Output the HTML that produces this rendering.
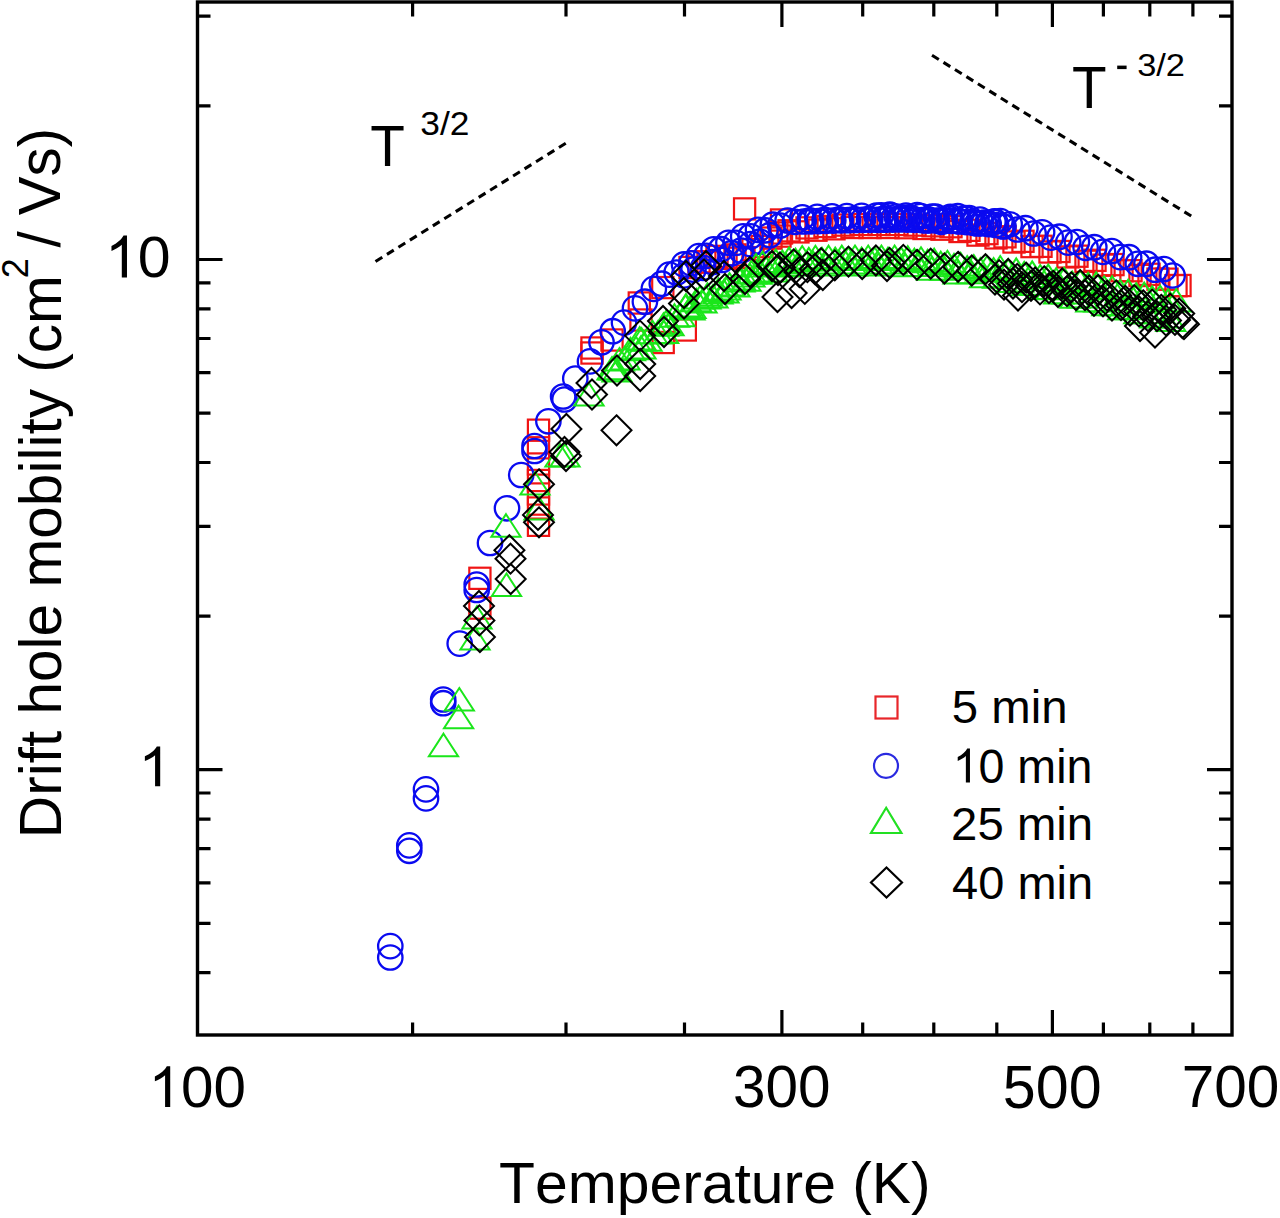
<!DOCTYPE html><html><head><meta charset="utf-8"><style>html,body{margin:0;padding:0;background:#fff;width:1280px;height:1218px;overflow:hidden}svg{display:block}text{font-family:"Liberation Sans",sans-serif;font-kerning:none;white-space:pre}</style></head><body>
<svg width="1280" height="1218" viewBox="0 0 1280 1218">
<rect width="1280" height="1218" fill="#fff"/>
<g fill="none" stroke="#f01414" stroke-width="2.2"><rect x="469.3" y="567.7" width="21.2" height="21.2"/><rect x="469.3" y="597.5" width="21.2" height="21.2"/><rect x="527.9" y="419.6" width="21.2" height="21.2"/><rect x="527.9" y="437.2" width="21.2" height="21.2"/><rect x="527.9" y="453.4" width="21.2" height="21.2"/><rect x="527.9" y="469.9" width="21.2" height="21.2"/><rect x="527.9" y="483.4" width="21.2" height="21.2"/><rect x="527.9" y="497.4" width="21.2" height="21.2"/><rect x="527.9" y="514.7" width="21.2" height="21.2"/><rect x="581.4" y="337.4" width="21.2" height="21.2"/><rect x="581.4" y="342.4" width="21.2" height="21.2"/><rect x="601.4" y="329.4" width="21.2" height="21.2"/><rect x="628.7" y="292.4" width="21.2" height="21.2"/><rect x="630.4" y="309.4" width="21.2" height="21.2"/><rect x="652.2" y="277.0" width="21.2" height="21.2"/><rect x="674.7" y="319.4" width="21.2" height="21.2"/><rect x="652.6" y="331.9" width="21.2" height="21.2"/><rect x="734.0" y="198.3" width="21.2" height="21.2"/><rect x="770.9" y="209.4" width="21.2" height="21.2"/><rect x="770.9" y="222.4" width="21.2" height="21.2"/><rect x="1169.4" y="274.9" width="21.2" height="21.2"/><rect x="679.4" y="256.9" width="21.2" height="21.2"/><rect x="688.4" y="251.2" width="21.2" height="21.2"/><rect x="697.4" y="251.5" width="21.2" height="21.2"/><rect x="706.4" y="245.8" width="21.2" height="21.2"/><rect x="715.4" y="247.7" width="21.2" height="21.2"/><rect x="724.4" y="244.3" width="21.2" height="21.2"/><rect x="733.4" y="247.0" width="21.2" height="21.2"/><rect x="742.4" y="239.1" width="21.2" height="21.2"/><rect x="751.4" y="236.0" width="21.2" height="21.2"/><rect x="760.4" y="227.5" width="21.2" height="21.2"/><rect x="769.4" y="225.5" width="21.2" height="21.2"/><rect x="778.4" y="220.2" width="21.2" height="21.2"/><rect x="787.4" y="221.3" width="21.2" height="21.2"/><rect x="796.4" y="217.3" width="21.2" height="21.2"/><rect x="805.4" y="219.6" width="21.2" height="21.2"/><rect x="814.4" y="215.9" width="21.2" height="21.2"/><rect x="823.4" y="218.2" width="21.2" height="21.2"/><rect x="832.4" y="214.5" width="21.2" height="21.2"/><rect x="841.4" y="216.9" width="21.2" height="21.2"/><rect x="850.4" y="213.9" width="21.2" height="21.2"/><rect x="859.4" y="216.9" width="21.2" height="21.2"/><rect x="868.4" y="213.9" width="21.2" height="21.2"/><rect x="877.4" y="216.9" width="21.2" height="21.2"/><rect x="886.4" y="213.9" width="21.2" height="21.2"/><rect x="895.4" y="217.1" width="21.2" height="21.2"/><rect x="904.4" y="214.5" width="21.2" height="21.2"/><rect x="913.4" y="217.9" width="21.2" height="21.2"/><rect x="922.4" y="215.2" width="21.2" height="21.2"/><rect x="931.4" y="218.6" width="21.2" height="21.2"/><rect x="940.4" y="216.1" width="21.2" height="21.2"/><rect x="949.4" y="220.9" width="21.2" height="21.2"/><rect x="958.4" y="219.7" width="21.2" height="21.2"/><rect x="967.4" y="224.5" width="21.2" height="21.2"/><rect x="976.4" y="223.0" width="21.2" height="21.2"/><rect x="985.4" y="227.3" width="21.2" height="21.2"/><rect x="994.4" y="226.2" width="21.2" height="21.2"/><rect x="1003.4" y="231.4" width="21.2" height="21.2"/><rect x="1012.4" y="230.7" width="21.2" height="21.2"/><rect x="1021.4" y="236.0" width="21.2" height="21.2"/><rect x="1030.4" y="235.7" width="21.2" height="21.2"/><rect x="1039.4" y="241.4" width="21.2" height="21.2"/><rect x="1048.4" y="240.9" width="21.2" height="21.2"/><rect x="1057.4" y="246.3" width="21.2" height="21.2"/><rect x="1066.4" y="245.6" width="21.2" height="21.2"/><rect x="1075.4" y="250.7" width="21.2" height="21.2"/><rect x="1084.4" y="249.7" width="21.2" height="21.2"/><rect x="1093.4" y="254.6" width="21.2" height="21.2"/><rect x="1102.4" y="254.0" width="21.2" height="21.2"/><rect x="1111.4" y="260.1" width="21.2" height="21.2"/><rect x="1120.4" y="260.1" width="21.2" height="21.2"/><rect x="1129.4" y="264.9" width="21.2" height="21.2"/><rect x="1138.4" y="263.7" width="21.2" height="21.2"/><rect x="1147.4" y="268.5" width="21.2" height="21.2"/><rect x="1156.4" y="268.6" width="21.2" height="21.2"/><rect x="1165.4" y="275.1" width="21.2" height="21.2"/></g>
<g fill="none" stroke="#0a0af0" stroke-width="2.3"><circle cx="390.3" cy="946.1" r="12.2"/><circle cx="390.3" cy="957.5" r="12.2"/><circle cx="409.3" cy="845.4" r="12.2"/><circle cx="409.3" cy="850.8" r="12.2"/><circle cx="426.0" cy="789.4" r="12.2"/><circle cx="426.0" cy="798.4" r="12.2"/><circle cx="443.2" cy="699.5" r="12.2"/><circle cx="443.2" cy="703.2" r="12.2"/><circle cx="459.7" cy="643.6" r="12.2"/><circle cx="476.7" cy="584.5" r="12.2"/><circle cx="476.7" cy="590.0" r="12.2"/><circle cx="490.0" cy="543.0" r="12.2"/><circle cx="507.0" cy="508.3" r="12.2"/><circle cx="521.2" cy="475.0" r="12.2"/><circle cx="534.5" cy="446.0" r="12.2"/><circle cx="534.5" cy="451.0" r="12.2"/><circle cx="548.4" cy="421.3" r="12.2"/><circle cx="563.1" cy="396.5" r="12.2"/><circle cx="564.5" cy="399.5" r="12.2"/><circle cx="575.3" cy="378.5" r="12.2"/><circle cx="590.0" cy="361.4" r="12.2"/><circle cx="601.5" cy="342.3" r="12.2"/><circle cx="612.7" cy="331.2" r="12.2"/><circle cx="684.0" cy="275.4" r="12.2"/><circle cx="693.5" cy="269.6" r="12.2"/><circle cx="703.0" cy="267.8" r="12.2"/><circle cx="712.5" cy="262.0" r="12.2"/><circle cx="722.0" cy="260.0" r="12.2"/><circle cx="731.5" cy="253.2" r="12.2"/><circle cx="741.0" cy="250.5" r="12.2"/><circle cx="750.5" cy="244.1" r="12.2"/><circle cx="760.0" cy="241.7" r="12.2"/><circle cx="769.5" cy="235.2" r="12.2"/><circle cx="624.0" cy="322.6" r="12.2"/><circle cx="635.0" cy="308.4" r="12.2"/><circle cx="644.9" cy="301.7" r="12.2"/><circle cx="653.8" cy="288.9" r="12.2"/><circle cx="661.8" cy="283.7" r="12.2"/><circle cx="669.2" cy="274.6" r="12.2"/><circle cx="676.6" cy="272.5" r="12.2"/><circle cx="684.0" cy="264.4" r="12.2"/><circle cx="691.4" cy="263.4" r="12.2"/><circle cx="698.8" cy="256.1" r="12.2"/><circle cx="706.2" cy="255.8" r="12.2"/><circle cx="713.6" cy="249.3" r="12.2"/><circle cx="721.0" cy="249.2" r="12.2"/><circle cx="728.4" cy="242.8" r="12.2"/><circle cx="735.8" cy="242.9" r="12.2"/><circle cx="743.2" cy="236.4" r="12.2"/><circle cx="750.6" cy="236.3" r="12.2"/><circle cx="758.0" cy="229.8" r="12.2"/><circle cx="765.4" cy="230.3" r="12.2"/><circle cx="772.8" cy="224.7" r="12.2"/><circle cx="780.2" cy="225.5" r="12.2"/><circle cx="787.6" cy="220.5" r="12.2"/><circle cx="795.0" cy="221.8" r="12.2"/><circle cx="802.4" cy="217.3" r="12.2"/><circle cx="809.8" cy="220.3" r="12.2"/><circle cx="817.2" cy="216.9" r="12.2"/><circle cx="824.6" cy="219.9" r="12.2"/><circle cx="832.0" cy="216.4" r="12.2"/><circle cx="839.4" cy="219.4" r="12.2"/><circle cx="846.8" cy="216.0" r="12.2"/><circle cx="854.2" cy="219.1" r="12.2"/><circle cx="861.6" cy="215.8" r="12.2"/><circle cx="869.0" cy="218.9" r="12.2"/><circle cx="876.4" cy="215.6" r="12.2"/><circle cx="883.8" cy="218.8" r="12.2"/><circle cx="891.2" cy="215.5" r="12.2"/><circle cx="898.6" cy="218.6" r="12.2"/><circle cx="906.0" cy="215.6" r="12.2"/><circle cx="913.4" cy="219.0" r="12.2"/><circle cx="920.8" cy="216.0" r="12.2"/><circle cx="928.2" cy="219.4" r="12.2"/><circle cx="935.6" cy="216.5" r="12.2"/><circle cx="943.0" cy="219.9" r="12.2"/><circle cx="950.4" cy="216.9" r="12.2"/><circle cx="957.8" cy="220.8" r="12.2"/><circle cx="965.2" cy="218.2" r="12.2"/><circle cx="972.6" cy="222.1" r="12.2"/><circle cx="980.0" cy="219.5" r="12.2"/><circle cx="987.4" cy="223.4" r="12.2"/><circle cx="994.8" cy="221.4" r="12.2"/><circle cx="1002.2" cy="226.0" r="12.2"/><circle cx="1009.7" cy="224.3" r="12.2"/><circle cx="1017.4" cy="229.5" r="12.2"/><circle cx="1025.4" cy="228.2" r="12.2"/><circle cx="1033.6" cy="233.5" r="12.2"/><circle cx="1042.1" cy="232.3" r="12.2"/><circle cx="1050.8" cy="237.6" r="12.2"/><circle cx="1059.5" cy="236.7" r="12.2"/><circle cx="1068.2" cy="242.6" r="12.2"/><circle cx="1076.9" cy="242.0" r="12.2"/><circle cx="1085.6" cy="247.8" r="12.2"/><circle cx="1094.3" cy="247.2" r="12.2"/><circle cx="1103.0" cy="251.9" r="12.2"/><circle cx="1111.7" cy="251.0" r="12.2"/><circle cx="1120.4" cy="257.1" r="12.2"/><circle cx="1129.1" cy="257.2" r="12.2"/><circle cx="1137.8" cy="263.8" r="12.2"/><circle cx="1146.5" cy="263.7" r="12.2"/><circle cx="1155.2" cy="269.7" r="12.2"/><circle cx="1163.9" cy="269.0" r="12.2"/><circle cx="1172.6" cy="275.5" r="12.2"/><circle cx="803.7" cy="221.5" r="12.2"/><circle cx="811.1" cy="221.3" r="12.2"/><circle cx="818.5" cy="221.1" r="12.2"/><circle cx="825.9" cy="220.8" r="12.2"/><circle cx="833.3" cy="220.6" r="12.2"/><circle cx="840.7" cy="220.4" r="12.2"/><circle cx="848.1" cy="220.2" r="12.2"/><circle cx="855.5" cy="220.0" r="12.2"/><circle cx="862.9" cy="219.9" r="12.2"/><circle cx="870.3" cy="219.8" r="12.2"/><circle cx="877.7" cy="219.8" r="12.2"/><circle cx="885.1" cy="219.7" r="12.2"/><circle cx="892.5" cy="219.6" r="12.2"/><circle cx="899.9" cy="219.5" r="12.2"/><circle cx="907.3" cy="219.6" r="12.2"/><circle cx="914.7" cy="219.8" r="12.2"/><circle cx="922.1" cy="220.1" r="12.2"/><circle cx="929.5" cy="220.3" r="12.2"/><circle cx="936.9" cy="220.5" r="12.2"/><circle cx="944.3" cy="220.7" r="12.2"/><circle cx="951.7" cy="220.9" r="12.2"/><circle cx="959.1" cy="221.5" r="12.2"/><circle cx="966.5" cy="222.1" r="12.2"/><circle cx="973.9" cy="222.8" r="12.2"/><circle cx="981.3" cy="223.4" r="12.2"/><circle cx="988.7" cy="224.1" r="12.2"/><circle cx="996.1" cy="225.0" r="12.2"/><circle cx="1003.5" cy="226.5" r="12.2"/><circle cx="881.1" cy="215.3" r="12.2"/><circle cx="889.8" cy="214.6" r="12.2"/><circle cx="896.7" cy="216.6" r="12.2"/><circle cx="902.2" cy="217.6" r="12.2"/><circle cx="909.5" cy="217.3" r="12.2"/><circle cx="917.1" cy="215.1" r="12.2"/><circle cx="925.9" cy="220.5" r="12.2"/><circle cx="932.1" cy="216.5" r="12.2"/><circle cx="941.5" cy="221.8" r="12.2"/><circle cx="948.7" cy="218.2" r="12.2"/><circle cx="957.7" cy="216.2" r="12.2"/><circle cx="964.6" cy="218.5" r="12.2"/><circle cx="969.2" cy="218.0" r="12.2"/><circle cx="977.2" cy="223.5" r="12.2"/><circle cx="984.1" cy="222.5" r="12.2"/><circle cx="993.4" cy="221.8" r="12.2"/><circle cx="1000.4" cy="221.1" r="12.2"/></g>
<g fill="none" stroke="#1ae61a" stroke-width="2.0"><path d="M459.3 688.0L473.9 710.5H444.7Z"/><path d="M458.6 705.7L473.2 728.2H444.0Z"/><path d="M443.5 733.7L458.1 756.2H428.9Z"/><path d="M475.0 627.0L489.6 649.5H460.4Z"/><path d="M477.0 606.0L491.6 628.5H462.4Z"/><path d="M506.5 573.5L521.1 596.0H491.9Z"/><path d="M506.0 514.2L520.6 536.7H491.4Z"/><path d="M535.0 472.0L549.6 494.5H520.4Z"/><path d="M539.0 497.0L553.6 519.5H524.4Z"/><path d="M560.0 444.0L574.6 466.5H545.4Z"/><path d="M565.0 444.0L579.6 466.5H550.4Z"/><path d="M589.0 383.0L603.6 405.5H574.4Z"/><path d="M612.0 357.0L626.6 379.5H597.4Z"/><path d="M617.0 359.0L631.6 381.5H602.4Z"/><path d="M639.7 327.0L654.3 349.5H625.1Z"/><path d="M641.0 336.0L655.6 358.5H626.4Z"/><path d="M663.6 320.4L678.2 342.9H649.0Z"/><path d="M666.0 311.0L680.6 333.5H651.4Z"/><path d="M686.0 294.0L700.6 316.5H671.4Z"/><path d="M690.0 297.0L704.6 319.5H675.4Z"/><path d="M700.0 286.0L714.6 308.5H685.4Z"/><path d="M706.0 286.0L720.6 308.5H691.4Z"/><path d="M726.0 277.0L740.6 299.5H711.4Z"/><path d="M718.0 281.0L732.6 303.5H703.4Z"/><path d="M740.0 269.0L754.6 291.5H725.4Z"/><path d="M750.0 264.0L764.6 286.5H735.4Z"/><path d="M614.0 357.1L628.6 379.6H599.4Z"/><path d="M619.5 348.0L634.1 370.5H604.9Z"/><path d="M625.0 346.9L639.6 369.4H610.4Z"/><path d="M630.5 337.8L645.1 360.3H615.9Z"/><path d="M636.0 336.7L650.6 359.2H621.4Z"/><path d="M641.5 328.0L656.1 350.5H626.9Z"/><path d="M647.0 328.3L661.6 350.8H632.4Z"/><path d="M652.5 320.7L667.1 343.2H637.9Z"/><path d="M658.0 321.0L672.6 343.5H643.4Z"/><path d="M663.5 313.3L678.1 335.8H648.9Z"/><path d="M669.0 312.8L683.6 335.3H654.4Z"/><path d="M674.5 304.2L689.1 326.8H659.9Z"/><path d="M680.0 303.7L694.6 326.2H665.4Z"/><path d="M685.5 295.1L700.1 317.6H670.9Z"/><path d="M691.0 295.5L705.6 318.0H676.4Z"/><path d="M696.5 288.8L711.1 311.2H681.9Z"/><path d="M702.0 290.0L716.6 312.5H687.4Z"/><path d="M707.5 283.3L722.1 305.8H692.9Z"/><path d="M713.0 284.9L727.6 307.4H698.4Z"/><path d="M718.5 278.4L733.1 300.9H703.9Z"/><path d="M724.0 279.9L738.6 302.4H709.4Z"/><path d="M729.5 273.1L744.1 295.6H714.9Z"/><path d="M735.0 274.1L749.6 296.6H720.4Z"/><path d="M740.5 267.1L755.1 289.6H725.9Z"/><path d="M746.0 268.2L760.6 290.7H731.4Z"/><path d="M751.5 261.0L766.1 283.5H736.9Z"/><path d="M757.0 261.3L771.6 283.8H742.4Z"/><path d="M756.0 254.0L770.6 276.5H741.4Z"/><path d="M762.6 251.6L777.2 274.1H748.0Z"/><path d="M769.2 252.6L783.8 275.1H754.6Z"/><path d="M775.8 249.6L790.4 272.1H761.2Z"/><path d="M782.4 250.6L797.0 273.1H767.8Z"/><path d="M789.0 247.6L803.6 270.1H774.4Z"/><path d="M795.6 248.7L810.2 271.2H781.0Z"/><path d="M802.2 246.0L816.8 268.5H787.6Z"/><path d="M808.8 247.9L823.4 270.4H794.2Z"/><path d="M815.4 245.8L830.0 268.3H800.8Z"/><path d="M822.0 247.8L836.6 270.3H807.4Z"/><path d="M828.6 245.7L843.2 268.2H814.0Z"/><path d="M835.2 247.6L849.8 270.1H820.6Z"/><path d="M841.8 245.6L856.4 268.1H827.2Z"/><path d="M848.4 247.5L863.0 270.0H833.8Z"/><path d="M855.0 245.5L869.6 268.0H840.4Z"/><path d="M861.6 247.5L876.2 270.0H847.0Z"/><path d="M868.2 245.5L882.8 268.0H853.6Z"/><path d="M874.8 247.5L889.4 270.0H860.2Z"/><path d="M881.4 245.5L896.0 268.0H866.8Z"/><path d="M888.0 247.5L902.6 270.0H873.4Z"/><path d="M894.6 245.5L909.2 268.0H880.0Z"/><path d="M901.2 247.6L915.8 270.1H886.6Z"/><path d="M907.8 246.2L922.4 268.7H893.2Z"/><path d="M914.4 248.7L929.0 271.2H899.8Z"/><path d="M921.0 247.3L935.6 269.8H906.4Z"/><path d="M927.6 249.8L942.2 272.3H913.0Z"/><path d="M934.2 248.7L948.8 271.2H919.6Z"/><path d="M940.8 251.7L955.4 274.2H926.2Z"/><path d="M947.4 250.8L962.0 273.3H932.8Z"/><path d="M954.0 253.8L968.6 276.3H939.4Z"/><path d="M960.6 252.9L975.2 275.4H946.0Z"/><path d="M967.2 256.0L981.8 278.5H952.6Z"/><path d="M973.8 255.0L988.4 277.5H959.2Z"/><path d="M980.4 258.0L995.0 280.5H965.8Z"/><path d="M987.0 256.0L1001.6 278.5H972.4Z"/><path d="M993.6 258.0L1008.2 280.5H979.0Z"/><path d="M1000.2 256.0L1014.8 278.5H985.6Z"/><path d="M1008.2 259.2L1022.8 281.7H993.6Z"/><path d="M1016.2 258.4L1030.8 280.9H1001.6Z"/><path d="M1024.2 261.8L1038.8 284.3H1009.6Z"/><path d="M1032.2 261.4L1046.8 283.9H1017.6Z"/><path d="M1040.2 265.0L1054.8 287.5H1025.6Z"/><path d="M1048.2 264.6L1062.8 287.1H1033.6Z"/><path d="M1056.2 268.2L1070.8 290.7H1041.6Z"/><path d="M1064.2 267.9L1078.8 290.4H1049.6Z"/><path d="M1072.2 271.6L1086.8 294.1H1057.6Z"/><path d="M1080.2 270.4L1094.8 292.9H1065.6Z"/><path d="M1088.2 272.9L1102.8 295.4H1073.6Z"/><path d="M1096.2 272.4L1110.8 294.9H1081.6Z"/><path d="M1104.2 276.3L1118.8 298.8H1089.6Z"/><path d="M1112.2 276.2L1126.8 298.7H1097.6Z"/><path d="M1120.2 280.0L1134.8 302.5H1105.6Z"/><path d="M1128.2 279.6L1142.8 302.1H1113.6Z"/><path d="M1136.2 283.1L1150.8 305.6H1121.6Z"/><path d="M1144.2 282.6L1158.8 305.1H1129.6Z"/><path d="M1152.2 286.2L1166.8 308.7H1137.6Z"/><path d="M1160.2 285.7L1174.8 308.2H1145.6Z"/><path d="M1168.2 289.3L1182.8 311.8H1153.6Z"/><path d="M1176.2 289.0L1190.8 311.5H1161.6Z"/><path d="M760.0 260.0L774.6 282.5H745.4Z"/><path d="M773.2 259.0L787.8 281.5H758.6Z"/><path d="M786.4 254.1L801.0 276.6H771.8Z"/><path d="M799.6 253.1L814.2 275.6H785.0Z"/><path d="M812.8 251.0L827.4 273.5H798.2Z"/><path d="M826.0 253.0L840.6 275.5H811.4Z"/><path d="M839.2 251.0L853.8 273.5H824.6Z"/><path d="M852.4 253.0L867.0 275.5H837.8Z"/><path d="M865.6 251.0L880.2 273.5H851.0Z"/><path d="M878.8 253.0L893.4 275.5H864.2Z"/><path d="M892.0 251.0L906.6 273.5H877.4Z"/><path d="M905.2 253.7L919.8 276.2H890.6Z"/><path d="M918.4 253.5L933.0 276.0H903.8Z"/><path d="M931.6 257.3L946.2 279.8H917.0Z"/><path d="M944.8 257.2L959.4 279.7H930.2Z"/><path d="M958.0 261.0L972.6 283.5H943.4Z"/><path d="M971.2 260.8L985.8 283.3H956.6Z"/><path d="M984.4 264.8L999.0 287.3H969.8Z"/><path d="M997.6 265.2L1012.2 287.7H983.0Z"/><path d="M1010.8 269.5L1025.4 292.0H996.2Z"/><path d="M1018.8 269.0L1033.4 291.5H1004.2Z"/><path d="M1026.8 272.4L1041.4 294.9H1012.2Z"/><path d="M1034.8 272.3L1049.4 294.8H1020.2Z"/><path d="M1042.8 276.5L1057.4 299.0H1028.2Z"/><path d="M1050.8 276.7L1065.4 299.2H1036.2Z"/><path d="M1058.8 280.9L1073.4 303.4H1044.2Z"/><path d="M1066.8 281.0L1081.4 303.5H1052.2Z"/><path d="M1074.8 285.2L1089.4 307.7H1060.2Z"/><path d="M1082.8 285.1L1097.4 307.6H1068.2Z"/><path d="M1090.8 289.0L1105.4 311.5H1076.2Z"/><path d="M1098.8 288.9L1113.4 311.4H1084.2Z"/><path d="M1106.8 292.8L1121.4 315.3H1092.2Z"/><path d="M1114.8 292.8L1129.4 315.3H1100.2Z"/><path d="M1122.8 296.7L1137.4 319.2H1108.2Z"/><path d="M1130.8 296.8L1145.4 319.3H1116.2Z"/><path d="M1138.8 300.8L1153.4 323.3H1124.2Z"/><path d="M1146.8 300.8L1161.4 323.3H1132.2Z"/><path d="M1154.8 304.9L1169.4 327.4H1140.2Z"/><path d="M1162.8 304.9L1177.4 327.4H1148.2Z"/><path d="M1170.8 308.5L1185.4 331.0H1156.2Z"/></g>
<g fill="none" stroke="#000" stroke-width="2.0"><path d="M479.0 591.0L494.0 606.0L479.0 621.0L464.0 606.0Z"/><path d="M479.4 605.4L494.4 620.4L479.4 635.4L464.4 620.4Z"/><path d="M479.9 622.0L494.9 637.0L479.9 652.0L464.9 637.0Z"/><path d="M510.7 564.0L525.7 579.0L510.7 594.0L495.7 579.0Z"/><path d="M509.4 535.2L524.4 550.2L509.4 565.2L494.4 550.2Z"/><path d="M510.5 543.7L525.5 558.7L510.5 573.7L495.5 558.7Z"/><path d="M539.0 469.3L554.0 484.3L539.0 499.3L524.0 484.3Z"/><path d="M538.0 499.9L553.0 514.9L538.0 529.9L523.0 514.9Z"/><path d="M539.0 507.3L554.0 522.3L539.0 537.3L524.0 522.3Z"/><path d="M564.5 437.0L579.5 452.0L564.5 467.0L549.5 452.0Z"/><path d="M566.0 441.0L581.0 456.0L566.0 471.0L551.0 456.0Z"/><path d="M566.4 414.0L581.4 429.0L566.4 444.0L551.4 429.0Z"/><path d="M616.5 415.3L631.5 430.3L616.5 445.3L601.5 430.3Z"/><path d="M591.5 368.0L606.5 383.0L591.5 398.0L576.5 383.0Z"/><path d="M592.0 379.5L607.0 394.5L592.0 409.5L577.0 394.5Z"/><path d="M617.0 355.5L632.0 370.5L617.0 385.5L602.0 370.5Z"/><path d="M640.2 349.0L655.2 364.0L640.2 379.0L625.2 364.0Z"/><path d="M640.2 361.0L655.2 376.0L640.2 391.0L625.2 376.0Z"/><path d="M640.0 320.6L655.0 335.6L640.0 350.6L625.0 335.6Z"/><path d="M663.0 306.0L678.0 321.0L663.0 336.0L648.0 321.0Z"/><path d="M664.0 317.0L679.0 332.0L664.0 347.0L649.0 332.0Z"/><path d="M684.0 278.0L699.0 293.0L684.0 308.0L669.0 293.0Z"/><path d="M684.0 288.5L699.0 303.5L684.0 318.5L669.0 303.5Z"/><path d="M686.0 261.0L701.0 276.0L686.0 291.0L671.0 276.0Z"/><path d="M704.0 259.5L719.0 274.5L704.0 289.5L689.0 274.5Z"/><path d="M706.0 251.0L721.0 266.0L706.0 281.0L691.0 266.0Z"/><path d="M724.0 261.0L739.0 276.0L724.0 291.0L709.0 276.0Z"/><path d="M725.0 274.0L740.0 289.0L725.0 304.0L710.0 289.0Z"/><path d="M745.0 264.0L760.0 279.0L745.0 294.0L730.0 279.0Z"/><path d="M750.0 257.0L765.0 272.0L750.0 287.0L735.0 272.0Z"/><path d="M777.5 282.0L792.5 297.0L777.5 312.0L762.5 297.0Z"/><path d="M791.6 278.0L806.6 293.0L791.6 308.0L776.6 293.0Z"/><path d="M804.8 273.9L819.8 288.9L804.8 303.9L789.8 288.9Z"/><path d="M822.8 260.0L837.8 275.0L822.8 290.0L807.8 275.0Z"/><path d="M772.0 251.0L787.0 266.0L772.0 281.0L757.0 266.0Z"/><path d="M778.0 255.0L793.0 270.0L778.0 285.0L763.0 270.0Z"/><path d="M799.4 257.0L814.4 272.0L799.4 287.0L784.4 272.0Z"/><path d="M815.0 254.0L830.0 269.0L815.0 284.0L800.0 269.0Z"/><path d="M1018.0 280.5L1033.0 295.5L1018.0 310.5L1003.0 295.5Z"/><path d="M1155.0 317.5L1170.0 332.5L1155.0 347.5L1140.0 332.5Z"/><path d="M1140.0 311.0L1155.0 326.0L1140.0 341.0L1125.0 326.0Z"/><path d="M1182.5 308.0L1197.5 323.0L1182.5 338.0L1167.5 323.0Z"/><path d="M887.0 251.0L902.0 266.0L887.0 281.0L872.0 266.0Z"/><path d="M780.0 252.5L795.0 267.5L780.0 282.5L765.0 267.5Z"/><path d="M793.7 249.5L808.7 264.5L793.7 279.5L778.7 264.5Z"/><path d="M807.4 252.1L822.4 267.1L807.4 282.1L792.4 267.1Z"/><path d="M821.1 248.2L836.1 263.2L821.1 278.2L806.1 263.2Z"/><path d="M834.8 250.4L849.8 265.4L834.8 280.4L819.8 265.4Z"/><path d="M848.5 246.6L863.5 261.6L848.5 276.6L833.5 261.6Z"/><path d="M862.2 249.0L877.2 264.0L862.2 279.0L847.2 264.0Z"/><path d="M875.9 245.5L890.9 260.5L875.9 275.5L860.9 260.5Z"/><path d="M889.6 247.9L904.6 262.9L889.6 277.9L874.6 262.9Z"/><path d="M903.3 244.9L918.3 259.9L903.3 274.9L888.3 259.9Z"/><path d="M917.0 249.8L932.0 264.8L917.0 279.8L902.0 264.8Z"/><path d="M930.7 248.7L945.7 263.7L930.7 278.7L915.7 263.7Z"/><path d="M944.4 253.5L959.4 268.5L944.4 283.5L929.4 268.5Z"/><path d="M958.1 251.8L973.1 266.8L958.1 281.8L943.1 266.8Z"/><path d="M971.8 255.5L986.8 270.5L971.8 285.5L956.8 270.5Z"/><path d="M985.5 254.2L1000.5 269.2L985.5 284.2L970.5 269.2Z"/><path d="M999.2 260.1L1014.2 275.1L999.2 290.1L984.2 275.1Z"/><path d="M1008.2 259.0L1023.2 274.0L1008.2 289.0L993.2 274.0Z"/><path d="M1017.2 263.9L1032.2 278.9L1017.2 293.9L1002.2 278.9Z"/><path d="M1026.2 262.7L1041.2 277.7L1026.2 292.7L1011.2 277.7Z"/><path d="M1035.2 267.5L1050.2 282.5L1035.2 297.5L1020.2 282.5Z"/><path d="M1044.2 266.3L1059.2 281.3L1044.2 296.3L1029.2 281.3Z"/><path d="M1053.2 270.8L1068.2 285.8L1053.2 300.8L1038.2 285.8Z"/><path d="M1062.2 268.5L1077.2 283.5L1062.2 298.5L1047.2 283.5Z"/><path d="M1071.2 272.3L1086.2 287.3L1071.2 302.3L1056.2 287.3Z"/><path d="M1080.2 270.1L1095.2 285.1L1080.2 300.1L1065.2 285.1Z"/><path d="M1089.2 275.5L1104.2 290.5L1089.2 305.5L1074.2 290.5Z"/><path d="M1098.2 275.0L1113.2 290.0L1098.2 305.0L1083.2 290.0Z"/><path d="M1107.2 280.7L1122.2 295.7L1107.2 310.7L1092.2 295.7Z"/><path d="M1116.2 280.4L1131.2 295.4L1116.2 310.4L1101.2 295.4Z"/><path d="M1125.2 285.8L1140.2 300.8L1125.2 315.8L1110.2 300.8Z"/><path d="M1134.2 285.1L1149.2 300.1L1134.2 315.1L1119.2 300.1Z"/><path d="M1143.2 290.3L1158.2 305.3L1143.2 320.3L1128.2 305.3Z"/><path d="M1152.2 289.6L1167.2 304.6L1152.2 319.6L1137.2 304.6Z"/><path d="M1161.2 294.8L1176.2 309.8L1161.2 324.8L1146.2 309.8Z"/><path d="M1170.2 293.6L1185.2 308.6L1170.2 323.6L1155.2 308.6Z"/><path d="M1179.2 298.5L1194.2 313.5L1179.2 328.5L1164.2 313.5Z"/><path d="M995.0 264.6L1010.0 279.6L995.0 294.6L980.0 279.6Z"/><path d="M1004.0 269.7L1019.0 284.7L1004.0 299.7L989.0 284.7Z"/><path d="M1013.0 268.5L1028.0 283.5L1013.0 298.5L998.0 283.5Z"/><path d="M1022.0 272.1L1037.0 287.1L1022.0 302.1L1007.0 287.1Z"/><path d="M1031.0 270.8L1046.0 285.8L1031.0 300.8L1016.0 285.8Z"/><path d="M1040.0 274.4L1055.0 289.4L1040.0 304.4L1025.0 289.4Z"/><path d="M1049.0 273.2L1064.0 288.2L1049.0 303.2L1034.0 288.2Z"/><path d="M1058.0 277.0L1073.0 292.0L1058.0 307.0L1043.0 292.0Z"/><path d="M1067.0 276.1L1082.0 291.1L1067.0 306.1L1052.0 291.1Z"/><path d="M1076.0 280.0L1091.0 295.0L1076.0 310.0L1061.0 295.0Z"/><path d="M1085.0 280.2L1100.0 295.2L1085.0 310.2L1070.0 295.2Z"/><path d="M1094.0 285.9L1109.0 300.9L1094.0 315.9L1079.0 300.9Z"/><path d="M1103.0 286.4L1118.0 301.4L1103.0 316.4L1088.0 301.4Z"/><path d="M1112.0 290.6L1127.0 305.6L1112.0 320.6L1097.0 305.6Z"/><path d="M1121.0 290.2L1136.0 305.2L1121.0 320.2L1106.0 305.2Z"/><path d="M1130.0 295.7L1145.0 310.7L1130.0 325.7L1115.0 310.7Z"/><path d="M1139.0 296.4L1154.0 311.4L1139.0 326.4L1124.0 311.4Z"/><path d="M1148.0 301.2L1163.0 316.2L1148.0 331.2L1133.0 316.2Z"/><path d="M1157.0 301.1L1172.0 316.1L1157.0 331.1L1142.0 316.1Z"/><path d="M1166.0 305.4L1181.0 320.4L1166.0 335.4L1151.0 320.4Z"/><path d="M1175.0 304.9L1190.0 319.9L1175.0 334.9L1160.0 319.9Z"/><path d="M1184.0 309.2L1199.0 324.2L1184.0 339.2L1169.0 324.2Z"/></g>
<rect x="197.5" y="2.0" width="1034.5" height="1033.0" fill="none" stroke="#000" stroke-width="3.4"/>
<path d="M412.6 2.0V16.5M412.6 1035.0V1022.5M566.0 2.0V16.5M566.0 1035.0V1022.5M684.5 2.0V16.5M684.5 1035.0V1022.5M862.7 2.0V16.5M862.7 1035.0V1022.5M933.8 2.0V16.5M933.8 1035.0V1022.5M996.8 2.0V16.5M996.8 1035.0V1022.5M1103.4 2.0V16.5M1103.4 1035.0V1022.5M1149.8 2.0V16.5M1149.8 1035.0V1022.5M1192.9 2.0V16.5M1192.9 1035.0V1022.5M781.9 2.0V27.0M781.9 1035.0V1010.0M1052.4 2.0V27.0M1052.4 1035.0V1010.0M197.5 972.7H210.5M1232.0 972.7H1219.0M197.5 923.3H210.5M1232.0 923.3H1219.0M197.5 882.9H210.5M1232.0 882.9H1219.0M197.5 848.7H210.5M1232.0 848.7H1219.0M197.5 819.1H210.5M1232.0 819.1H1219.0M197.5 793.0H210.5M1232.0 793.0H1219.0M197.5 616.1H210.5M1232.0 616.1H1219.0M197.5 526.3H210.5M1232.0 526.3H1219.0M197.5 462.5H210.5M1232.0 462.5H1219.0M197.5 413.1H210.5M1232.0 413.1H1219.0M197.5 372.7H210.5M1232.0 372.7H1219.0M197.5 338.5H210.5M1232.0 338.5H1219.0M197.5 308.9H210.5M1232.0 308.9H1219.0M197.5 282.8H210.5M1232.0 282.8H1219.0M197.5 105.9H210.5M1232.0 105.9H1219.0M197.5 16.1H210.5M1232.0 16.1H1219.0M197.5 769.7H222.5M1232.0 769.7H1207.0M197.5 259.5H222.5M1232.0 259.5H1207.0" stroke="#000" stroke-width="3.2" fill="none"/>
<g transform="translate(148.46,1107.00) scale(1.0068,0.9786)"><path transform="translate(0.00,0) scale(0.02832,-0.02832)" d="M763 0L583 0L583 1147C540 1106 483 1064 413 1023C343 982 280 951 225 930L225 1104C325 1151 412 1208 486 1275C560 1342 613 1407 644 1470L763 1470Z"/><text x="32.25" y="0" font-size="58" xml:space="preserve">00</text></g>
<g transform="translate(732.98,1107.20) scale(1.0087,1.0300)"><text x="0.00" y="0" font-size="58" xml:space="preserve">300</text></g>
<g transform="translate(1002.84,1107.80) scale(1.0209,1.0525)"><text x="0.00" y="0" font-size="58" xml:space="preserve">500</text></g>
<g transform="translate(1181.77,1107.40) scale(1.0088,1.0350)"><text x="0.00" y="0" font-size="58" xml:space="preserve">700</text></g>
<g transform="translate(104.99,277.40) scale(1.0179,1.0048)"><path transform="translate(0.00,0) scale(0.02832,-0.02832)" d="M763 0L583 0L583 1147C540 1106 483 1064 413 1023C343 982 280 951 225 930L225 1104C325 1151 412 1208 486 1275C560 1342 613 1407 644 1470L763 1470Z"/><text x="32.25" y="0" font-size="58" xml:space="preserve">0</text></g>
<g transform="translate(138.46,786.20) scale(1.0062,0.9548)"><path transform="translate(0.00,0) scale(0.02832,-0.02832)" d="M763 0L583 0L583 1147C540 1106 483 1064 413 1023C343 982 280 951 225 930L225 1104C325 1151 412 1208 486 1275C560 1342 613 1407 644 1470L763 1470Z"/></g>
<g transform="translate(498.99,1202.92) scale(1.0150,0.9815)"><text x="0" y="0" font-size="58">Temperature (K)</text></g>
<g transform="translate(370.21,166.10) scale(0.9939,1.0200)"><text x="0" y="0" font-size="57">T</text></g>
<g transform="translate(420.28,134.70) scale(1.0111,0.9731)"><text x="0" y="0" font-size="35">3/2</text></g>
<g transform="translate(1072.11,107.80) scale(0.9939,1.0250)"><text x="0" y="0" font-size="57">T</text></g>
<g transform="translate(1137.13,76.00) scale(0.9844,0.9038)"><text x="0" y="0" font-size="35">3/2</text></g>
<g transform="translate(951.76,723.10) scale(0.9968,0.9814)"><text x="0.00" y="0" font-size="47.5" xml:space="preserve">5 min</text></g>
<g transform="translate(952.59,782.50) scale(0.9815,1.0000)"><path transform="translate(0.00,0) scale(0.02319,-0.02319)" d="M763 0L583 0L583 1147C540 1106 483 1064 413 1023C343 982 280 951 225 930L225 1104C325 1151 412 1208 486 1275C560 1342 613 1407 644 1470L763 1470Z"/><text x="26.41" y="0" font-size="47.5" xml:space="preserve">0 min</text></g>
<g transform="translate(951.11,840.00) scale(0.9964,0.9829)"><text x="0.00" y="0" font-size="47.5" xml:space="preserve">25 min</text></g>
<g transform="translate(952.11,898.75) scale(0.9892,0.9814)"><text x="0.00" y="0" font-size="47.5" xml:space="preserve">40 min</text></g>
<g transform="matrix(0,-0.9928,1.0127,0,60.75,838.16)"><text x="0" y="0" font-size="59">Drift hole mobility (cm</text></g>
<g transform="matrix(0,-1.0250,1.0542,0,27.90,278.35)"><text x="0" y="0" font-size="35">2</text></g>
<g transform="matrix(0,-0.9856,0.9927,0,59.89,247.50)"><text x="0" y="0" font-size="59">/ Vs)</text></g>
<rect x="1117.2" y="65.6" width="9.4" height="3.5" fill="#000"/>
<path d="M375.5 261.5L567.8 142" stroke="#000" stroke-width="3.1" stroke-dasharray="8 5.5" fill="none"/>
<path d="M932 55.3L1191.3 216.1" stroke="#000" stroke-width="3.1" stroke-dasharray="8 5.5" fill="none"/>
<rect x="875.5" y="696.5" width="22" height="22" fill="none" stroke="#e8262a" stroke-width="2.2"/>
<circle cx="886" cy="765.8" r="12" fill="none" stroke="#2a2ae0" stroke-width="2.2"/>
<path d="M886.2 807.8L871 833L901.4 833Z" fill="none" stroke="#22e022" stroke-width="2.2"/>
<path d="M886.5 867.5L902 882.5L886.5 897.5L871 882.5Z" fill="none" stroke="#000" stroke-width="2.2"/>
</svg></body></html>
